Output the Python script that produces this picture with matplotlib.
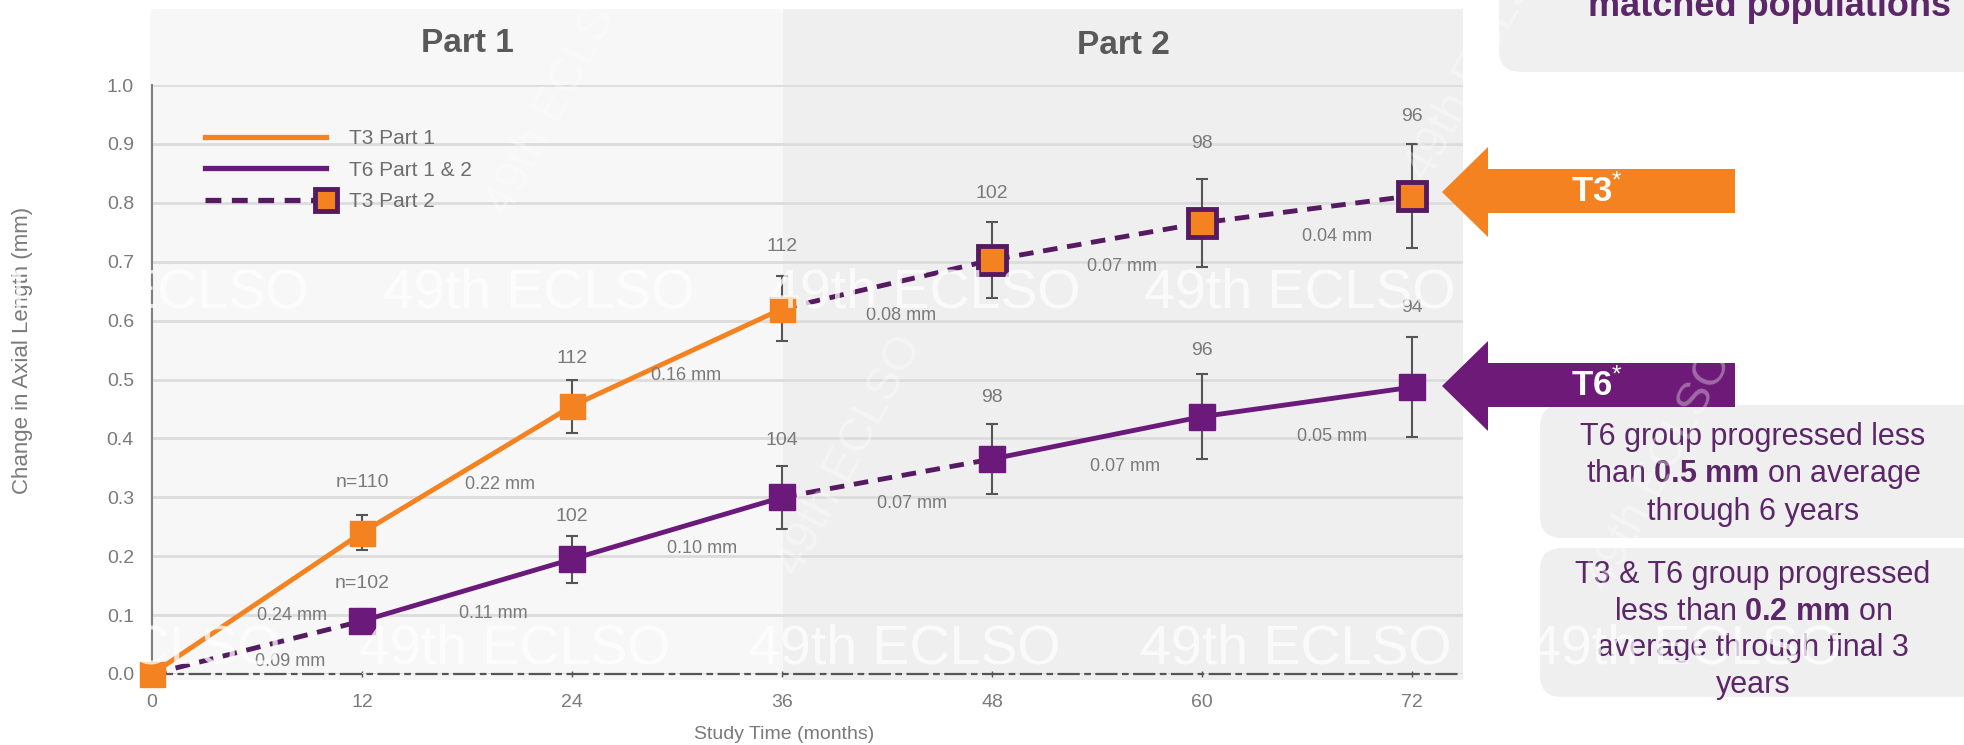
import numpy as np
import matplotlib
matplotlib.use("Agg")
import matplotlib.pyplot as plt
from matplotlib.patches import Rectangle, FancyBboxPatch, Polygon
from matplotlib.lines import Line2D
from matplotlib.legend_handler import HandlerLine2D
from matplotlib.transforms import IdentityTransform
from matplotlib.ticker import FormatStrFormatter

plt.rcParams['font.family'] = ['Liberation Sans', 'DejaVu Sans']
plt.rcParams['mathtext.fontset'] = 'custom'
plt.rcParams['mathtext.rm'] = 'Liberation Sans'
plt.rcParams['mathtext.bf'] = 'Liberation Sans:bold'
plt.rcParams['mathtext.it'] = 'Liberation Sans:italic'

# ---------------- data ----------------
months = [0, 12, 24, 36, 48, 60, 72]
t3_p1_x = [0, 12, 24, 36]
t3_p1_y = [0.0, 0.24, 0.455, 0.62]
t3_p1_err = [0.0, 0.03, 0.045, 0.055]
t6_y = [0.0, 0.09, 0.195, 0.30, 0.365, 0.437, 0.487]
t6_err = [0.0, 0.02, 0.04, 0.053, 0.06, 0.072, 0.085]
t3_p2_x = [36, 48, 60, 72]
t3_p2_y = [0.62, 0.703, 0.766, 0.812]
t3_p2_err = [0.055, 0.065, 0.075, 0.088]

n_t3 = ['', 'n=110', '112', '112', '102', '98', '96']
n_t3_pos = [None, 0.325, 0.536, 0.725, 0.815, 0.900, 0.946]
n_t6 = ['', 'n=102', '102', '104', '98', '96', '94']
n_t6_pos = [None, 0.153, 0.268, 0.396, 0.470, 0.549, 0.623]

inc_labels = ['0.24 mm', '0.09 mm', '0.22 mm', '0.11 mm', '0.16 mm', '0.10 mm',
              '0.08 mm', '0.07 mm', '0.07 mm', '0.07 mm', '0.04 mm', '0.05 mm']
inc_x = [8.0, 7.9, 19.9, 19.5, 30.5, 31.4, 42.8, 43.4, 55.4, 55.6, 67.7, 67.4]
inc_y = [0.100, 0.021, 0.321, 0.103, 0.506, 0.213, 0.609, 0.290, 0.692, 0.353, 0.742, 0.403]

yticks = [0.0, 0.1, 0.2, 0.3, 0.4, 0.5, 0.6, 0.7, 0.8, 0.9, 1.0]
legend_labels = ['T3 Part 1', 'T6 Part 1 & 2', 'T3 Part 2']

# ---------------- style ----------------
W, H = 1964, 745
ORANGE = '#F58220'
PURPLE = '#6B1A7B'
DPURPLE = '#561A63'
EC = '#555555'
GRAY_TXT = '#7a7a7a'
TXT_PURPLE = '#5c2769'

fig = plt.figure(figsize=(W / 100, H / 100), dpi=100)
fig.patch.set_facecolor('white')
ID = IdentityTransform()


def R(x0, y0, x1, y1, color, z=-5, rounding=None):
    if rounding:
        p = FancyBboxPatch((x0, H - y1), x1 - x0, y1 - y0,
                           boxstyle=f"round,pad=0,rounding_size={rounding}",
                           facecolor=color, edgecolor='none', transform=ID, zorder=z)
    else:
        p = Rectangle((x0, H - y1), x1 - x0, y1 - y0, facecolor=color,
                      edgecolor='none', transform=ID, zorder=z)
    fig.add_artist(p)


def T(x, y, s, **kw):
    return fig.text(x / W, 1 - y / H, s, **kw)


# background panels
R(150, 9, 783, 680, '#f7f7f7', rounding=6)
R(783, 9, 1463, 680, '#efefef')

# axes
ax = fig.add_axes([152 / W, (H - 674) / H, (1463 - 152) / W, (674 - 85) / H])
ax.set_facecolor('none')
ax.set_xlim(0, 74.9)
ax.set_ylim(0, 1.0)
ax.set_yticks(yticks)
ax.yaxis.set_major_formatter(FormatStrFormatter('%.1f'))
ax.set_xticks(months)
ax.yaxis.grid(True, color='#dcdcdc', lw=2.0)
ax.set_axisbelow(True)
for s in ['top', 'right']:
    ax.spines[s].set_visible(False)
ax.spines['left'].set_color('#808080')
ax.spines['left'].set_linewidth(1.5)
ax.spines['bottom'].set_color('#555555')
ax.spines['bottom'].set_linewidth(1.6)
ax.spines['bottom'].set_linestyle((0, (9, 3, 2, 3)))
ax.tick_params(axis='y', length=0, pad=13, labelsize=14, labelcolor=GRAY_TXT)
ax.tick_params(axis='x', length=5, direction='inout', color='#555555', width=1,
               pad=12, labelsize=14, labelcolor=GRAY_TXT)

# error bars
ax.errorbar(t3_p1_x[1:], t3_p1_y[1:], yerr=t3_p1_err[1:], fmt='none', ecolor=EC,
            elinewidth=1.5, capsize=4, capthick=1.5, zorder=3)
ax.errorbar(months[1:], t6_y[1:], yerr=t6_err[1:], fmt='none', ecolor=EC,
            elinewidth=1.5, capsize=4, capthick=1.5, zorder=3)
ax.errorbar(t3_p2_x[1:], t3_p2_y[1:], yerr=t3_p2_err[1:], fmt='none', ecolor=EC,
            elinewidth=1.5, capsize=4, capthick=1.5, zorder=3)

DASH = (0, (3, 2))
# T6 line segments
ax.plot(months[0:2], t6_y[0:2], color=DPURPLE, lw=3.5, ls=DASH, zorder=4, clip_on=False)
ax.plot(months[1:4], t6_y[1:4], color=PURPLE, lw=3.5, zorder=4)
ax.plot(months[3:5], t6_y[3:5], color=DPURPLE, lw=3.5, ls=DASH, zorder=4)
ax.plot(months[4:], t6_y[4:], color=PURPLE, lw=3.5, zorder=4)
ax.plot(months[1:], t6_y[1:], ls='none', marker='s', ms=19, color=PURPLE, zorder=6)

# T3 part 2
ax.plot(t3_p2_x, t3_p2_y, color=DPURPLE, lw=3.5, ls=DASH, zorder=4)
ax.plot(t3_p2_x[1:], t3_p2_y[1:], ls='none', marker='s', ms=20, mfc=ORANGE,
        mec=DPURPLE, mew=3.5, zorder=6)

# T3 part 1
ax.plot(t3_p1_x, t3_p1_y, color=ORANGE, lw=3.5, zorder=5, clip_on=False)
ax.plot(t3_p1_x, t3_p1_y, ls='none', marker='s', ms=18, color=ORANGE, zorder=7, clip_on=False)

# n labels
for i, m in enumerate(months):
    if n_t3_pos[i] is not None:
        ax.text(m, n_t3_pos[i], n_t3[i], ha='center', va='center', fontsize=14, color=GRAY_TXT)
    if n_t6_pos[i] is not None:
        ax.text(m, n_t6_pos[i], n_t6[i], ha='center', va='center', fontsize=14, color=GRAY_TXT)

for s, x, y in zip(inc_labels, inc_x, inc_y):
    ax.text(x, y, s, ha='center', va='center', fontsize=13, color=GRAY_TXT, zorder=8)


# legend
class EndMarker(HandlerLine2D):
    def create_artists(self, *args, **kwargs):
        arts = super().create_artists(*args, **kwargs)
        for a in arts:
            a.set_markevery([2])
        return arts


h1 = Line2D([], [], color=ORANGE, lw=3.8)
h2 = Line2D([], [], color=PURPLE, lw=3.8)
h3 = Line2D([], [], color=DPURPLE, lw=3.8, ls=DASH, marker='s', ms=16,
            mfc=ORANGE, mec=DPURPLE, mew=3.5)
ax.legend([h1, h2, h3], legend_labels, loc='upper left',
          bbox_to_anchor=(205 / W, 1 - 129 / H), bbox_transform=fig.transFigure,
          frameon=False, fontsize=15, labelcolor='#6e6e6e', handlelength=5.8,
          handletextpad=1.1, labelspacing=0.6, borderpad=0, borderaxespad=0,
          numpoints=1, handler_map={h3: EndMarker()})

# axis labels
ax.text(0.482, -0.102, 'Study Time (months)', transform=ax.transAxes, ha='center',
        va='center', fontsize=14, color=GRAY_TXT)
ax.text(-0.099, 0.55, 'Change in Axial Length (mm)', transform=ax.transAxes, ha='center',
        va='center', rotation=90, fontsize=16, color=GRAY_TXT)

# headers
T(467, 43, 'Part 1', ha='center', va='center', fontsize=24, fontweight='bold', color='#595959')
T(1123, 45, 'Part 2', ha='center', va='center', fontsize=24, fontweight='bold', color='#595959')

# right-side elements
R(1499, -30, 1990, 72, '#f0f0f0', z=1, rounding=22)
T(1770, 16, 'matched populations', ha='center', va='baseline', fontsize=26,
  fontweight='bold', color=TXT_PURPLE, zorder=2)


def arrow(yc, color, label):
    pts = [(1442, yc), (1488, yc - 45), (1488, yc - 23), (1735, yc - 23),
           (1735, yc + 21), (1488, yc + 21), (1488, yc + 45)]
    fig.add_artist(Polygon([(x, H - y) for x, y in pts], closed=True, facecolor=color,
                           edgecolor='none', transform=ID, zorder=3))
    T(1597, yc, label, ha='center', va='center', fontsize=25, fontweight='bold',
      color='white', zorder=4)


arrow(192, ORANGE, r'T3$^{*}$')
arrow(386, '#6E1A78', r'T6$^{*}$')

R(1540, 405, 1990, 538, '#efefef', z=1, rounding=22)
R(1540, 548, 1990, 697, '#efefef', z=1, rounding=22)
box1 = ['T6 group progressed less', r'than $\mathbf{0.5\ mm}$ on average', 'through 6 years']
box1_y = [437, 474, 512]
box2 = ['T3 & T6 group progressed', r'less than $\mathbf{0.2\ mm}$ on', 'average through final 3', 'years']
box2_y = [575, 612, 648, 685]
for s, y in zip(box1, box1_y):
    T(1753, y, s, ha='center', va='center', fontsize=22, color=TXT_PURPLE, zorder=2)
for s, y in zip(box2, box2_y):
    T(1753, y, s, ha='center', va='center', fontsize=22, color=TXT_PURPLE, zorder=2)

# watermarks
row1 = [153, 539, 925, 1300, 1690]
row2 = [125, 515, 905, 1296, 1686]
for x in row1:
    T(x, 294, '49th ECLSO', ha='center', va='center', fontsize=40, color='white',
      alpha=0.75, zorder=20)
for x in row2:
    T(x, 649, '49th ECLSO', ha='center', va='center', fontsize=40, color='white',
      alpha=0.75, zorder=20)
for (x, y) in [(560, 95), (1480, 60), (850, 455), (1660, 470)]:
    T(x, y, '49th ECLSO', ha='center', va='center', fontsize=34, color='white',
      alpha=0.35, rotation=62, zorder=20)

fig.savefig('out.png', dpi=100, facecolor='white')
